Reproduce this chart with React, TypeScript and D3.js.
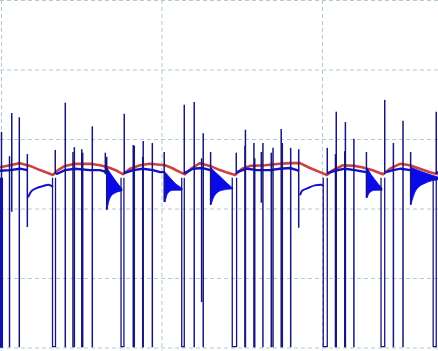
import React from 'react';
import * as d3 from 'd3';

const W = 438;
const H = 351;

// grid ticks (ms, V)
const gridTimes = [0, 100, 200];
const gridVolts = [0, 1, 2, 3, 4, 5];

// red trace: [time ms, volts]
const redTrace: [number, number][] = [
  [-0.93, 2.60], [5.3, 2.63], [11.5, 2.66], [17.8, 2.62], [24.0, 2.56], [32.1, 2.49],
  [35.2, 2.56], [39.6, 2.62], [45.8, 2.65], [55.1, 2.65], [61.4, 2.63], [66.4, 2.60],
  [72.0, 2.55], [75.7, 2.50], [80.1, 2.58], [86.3, 2.63], [92.5, 2.65], [101.9, 2.63],
  [106.2, 2.59], [111.2, 2.53], [114.3, 2.50], [118.7, 2.59], [123.7, 2.66], [129.9, 2.62],
  [136.1, 2.56], [141.1, 2.52], [145.5, 2.49], [149.9, 2.58], [154.8, 2.62], [164.2, 2.63],
  [173.5, 2.65], [179.8, 2.66], [186.0, 2.66], [192.2, 2.59], [198.4, 2.53], [202.8, 2.49],
  [206.5, 2.56], [212.8, 2.63], [220.25, 2.62], [224.6, 2.60], [230.8, 2.56], [237.7, 2.50],
  [242.1, 2.58], [248.3, 2.65], [254.5, 2.63], [260.7, 2.58], [267.0, 2.53], [272.0, 2.50],
];

// blue baseline segments between events
const baselineSegments: [number, number][][] = [
  [[-0.93, 2.55], [5.3, 2.56], [11.5, 2.58], [16.1, 2.56]],
  [[34.0, 2.50], [39.6, 2.56], [45.8, 2.58], [55.1, 2.56], [61.4, 2.56], [65.6, 2.53]],
  [[76.95, 2.52], [82.1, 2.56], [88.2, 2.58], [94.4, 2.56], [98.8, 2.53], [101.6, 2.53]],
  [[114.3, 2.52], [119.3, 2.58], [124.9, 2.59], [130.2, 2.56]],
  [[146.7, 2.53], [153.0, 2.58], [159.2, 2.56], [167.3, 2.56], [173.5, 2.58], [179.8, 2.59], [184.1, 2.56], [185.4, 2.55]],
  [[203.4, 2.52], [207.8, 2.55], [214.0, 2.58], [220.25, 2.56], [227.1, 2.53]],
  [[239.6, 2.53], [243.9, 2.56], [248.9, 2.58], [254.8, 2.56]],
  [[270.9, 2.52], [272.0, 2.53]],
];

// sagging recovery arcs
const sagArcs: [number, number][][] = [
  [[16.5, 2.17], [18.8, 2.26], [21.9, 2.30], [26.05, 2.33], [29.2, 2.35], [31.3, 2.33], [32.1, 2.32]],
  [[186.0, 2.20], [187.2, 2.26], [191.0, 2.30], [195.1, 2.34], [199.2, 2.35], [200.5, 2.33]],
];

// ringing envelopes: upper and lower edges
const ringUpper: [number, number][][] = [
  [[65.7, 2.59], [70.7, 2.42], [75.1, 2.29]],
  [[101.9, 2.53], [105.0, 2.45], [108.7, 2.36], [112.5, 2.30]],
  [[130.5, 2.59], [136.1, 2.47], [141.1, 2.36], [144.2, 2.30]],
  [[227.7, 2.59], [232.7, 2.42], [237.1, 2.30]],
  [[255.1, 2.60], [263.9, 2.52], [272.0, 2.46]],
];
const ringLower: [number, number][][] = [
  [[65.7, 1.99], [67.6, 2.16], [70.7, 2.23], [75.1, 2.26]],
  [[101.9, 2.10], [103.7, 2.23], [106.9, 2.27], [112.5, 2.27]],
  [[130.5, 2.06], [133.0, 2.20], [137.4, 2.27], [144.2, 2.29]],
  [[227.7, 2.16], [229.6, 2.24], [232.7, 2.27], [237.1, 2.27]],
  [[255.1, 2.06], [258.3, 2.27], [263.9, 2.37], [272.0, 2.42]],
];

// spikes: time, peak, lowest point
const spikeTimes = [0.0, 5.0, 6.4, 11.1, 16.1, 33.5, 39.75, 44.55, 45.4, 50.0, 50.6, 56.6, 64.7, 65.55, 76.5,
  82.1, 82.75, 88.0, 88.3, 94.0, 101.4, 113.9, 120.1, 124.7, 125.7, 130.3, 146.3, 151.7, 152.0, 157.3, 157.8,
  161.9, 162.9, 168.1, 169.2, 174.3, 175.0, 180.2, 185.2, 203.0, 208.1, 208.6, 213.9, 214.3, 219.6, 227.4,
  238.8, 244.2, 250.2, 254.95, 270.9];
const spikePeaks = [3.11, 2.76, 3.38, 3.32, 2.79, 2.85, 3.53, 2.82, 2.89, 2.86, 2.81, 3.19, 2.81, 2.75, 3.37,
  2.92, 2.91, 2.75, 2.98, 2.95, 2.82, 3.50, 3.54, 2.73, 3.09, 2.82, 2.81, 2.91, 3.14, 2.95, 2.73,
  2.82, 2.95, 2.81, 2.88, 3.15, 2.95, 2.88, 2.86, 2.88, 2.79, 3.40, 2.83, 3.25, 3.01, 2.82,
  3.57, 2.95, 3.27, 2.82, 3.40];
const spikeLows = [0.01, 0.01, 1.96, 0.01, 1.74, 2.5, 0.01, 0.01, 0.01, 0.01, 0.01, 0.01, 2.5, 1.99, 2.5,
  0.01, 0.01, 0.01, 0.01, 0.01, 2.1, 2.5, 0.01, 0.66, 0.01, 2.06, 2.5, 0.01, 0.01, 0.01, 0.01,
  2.09, 0.01, 0.01, 0.01, 0.01, 0.01, 0.01, 1.73, 2.5, 0.01, 0.01, 0.01, 0.01, 0.01, 2.16,
  2.5, 0.01, 0.01, 2.06, 2.5];

// narrow downward pulses: start, end
const pulseStarts = [-0.93, 31.8, 74.5, 112.3, 143.8, 200.5, 236.5, 269.0];
const pulseEnds = [0.3, 33.65, 76.3, 113.9, 146.5, 203.0, 238.8, 270.9];
const pulseFloor = 0.02;
const pulseTop = 2.45;

const RED = '#cc4242';
const BLUE = '#1010d2';
const NAVY = '#17177a';
const GRID = '#b2c9d8';

export default function App() {
  const x = d3.scaleLinear().domain([-0.93, 272]).range([0, W]);
  const y = d3.scaleLinear().domain([0, 5]).range([348, 0.5]);
  const line = d3.line<[number, number]>().x((d) => x(d[0])).y((d) => y(d[1]));
  const smooth = d3.line<[number, number]>().x((d) => x(d[0])).y((d) => y(d[1])).curve(d3.curveMonotoneX);

  const ringPaths = ringUpper.map((up, i) => {
    const lo = ringLower[i];
    const upStr = smooth(up) as string;
    const loRev = [...lo].reverse();
    const loStr = (d3.line<[number, number]>().x((d) => x(d[0])).y((d) => y(d[1])).curve(d3.curveMonotoneX)(loRev) as string).replace(/^M/, 'L');
    return upStr + loStr + 'Z';
  });

  return (
    <svg width={W} height={H} style={{ position: 'fixed', left: 0, top: 0, background: '#fff' }}>
      <rect x={0} y={0} width={W} height={H} fill="#fff" />
      {gridVolts.map((v) => (
        <line key={'h' + v} x1={0} x2={W} y1={y(v)} y2={y(v)} stroke={GRID} strokeWidth={1} strokeDasharray="4 3" />
      ))}
      {gridTimes.map((t) => (
        <line key={'v' + t} x1={x(t)} x2={x(t)} y1={0} y2={H} stroke={GRID} strokeWidth={1} strokeDasharray="4 3" />
      ))}
      <path d={line(redTrace) as string} fill="none" stroke={RED} strokeWidth={2.6} strokeLinejoin="round" />
      {baselineSegments.map((s, i) => (
        <path key={'b' + i} d={line(s) as string} fill="none" stroke={BLUE} strokeWidth={2.4} strokeLinejoin="round" />
      ))}
      {sagArcs.map((s, i) => (
        <path key={'a' + i} d={smooth(s) as string} fill="none" stroke={BLUE} strokeWidth={2} />
      ))}
      {ringPaths.map((p, i) => (
        <path key={'r' + i} d={p} fill="#0a0ae6" stroke="#0a0ae6" strokeWidth={0.8} />
      ))}
      {pulseStarts.map((s, i) => (
        <path
          key={'p' + i}
          d={line([[s, pulseTop], [s, pulseFloor], [pulseEnds[i], pulseFloor], [pulseEnds[i], pulseTop]]) as string}
          fill="none"
          stroke={i === 0 ? BLUE : NAVY}
          strokeWidth={i === 0 ? 2.2 : 1.3}
        />
      ))}
      {spikeTimes.map((t, i) => (
        <line key={'s' + i} x1={x(t)} x2={x(t)} y1={y(spikePeaks[i])} y2={y(spikeLows[i])} stroke={NAVY} strokeWidth={1.5} />
      ))}
    </svg>
  );
}
